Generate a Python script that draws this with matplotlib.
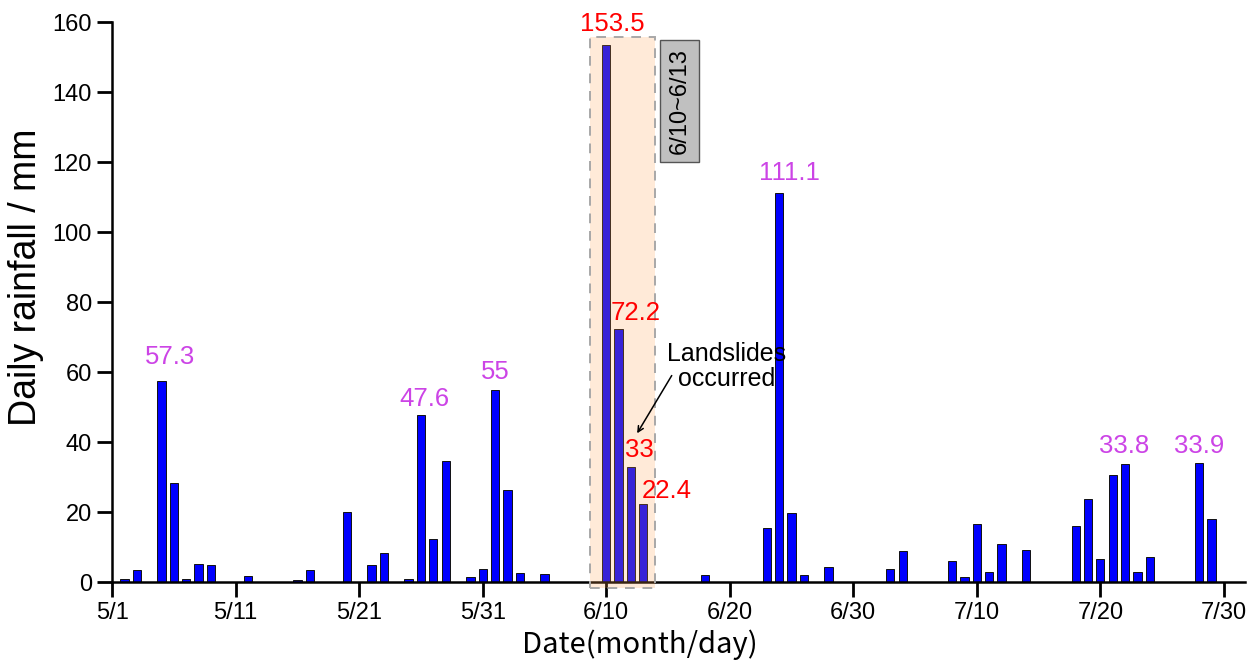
import matplotlib
matplotlib.use("Agg")
import matplotlib.pyplot as plt
from matplotlib.patches import Rectangle
import pandas as pd

# daily rainfall (mm), days without rain are left out
dates = ["5/2", "5/3", "5/5", "5/6", "5/7", "5/8", "5/9", "5/12", "5/16", "5/17",
         "5/20", "5/22", "5/23", "5/25", "5/26", "5/27", "5/28", "5/30", "5/31", "6/1",
         "6/2", "6/3", "6/5", "6/10", "6/11", "6/12", "6/13", "6/18", "6/23", "6/24",
         "6/25", "6/26", "6/28", "7/3", "7/4", "7/8", "7/9", "7/10", "7/11", "7/12",
         "7/14", "7/18", "7/19", "7/20", "7/21", "7/22", "7/23", "7/24", "7/28", "7/29"]
rain = [1.0, 3.3, 57.3, 28.2, 1.0, 5.2, 5.0, 1.6, 0.5, 3.3,
        20.0, 5.0, 8.3, 1.0, 47.6, 12.4, 34.5, 1.3, 3.7, 55.0,
        26.4, 2.6, 2.3, 153.5, 72.2, 33.0, 22.4, 2.0, 15.5, 111.1,
        19.8, 1.9, 4.4, 3.7, 8.8, 6.1, 1.3, 16.7, 2.9, 11.0,
        9.2, 16.0, 23.8, 6.5, 30.6, 33.8, 3.0, 7.1, 33.9, 18.1]

# peaks that get a value label
peak_dates = ["5/5", "5/26", "6/1", "6/24", "7/22", "7/28"]
event_dates = ["6/10", "6/11", "6/12", "6/13"]
tick_dates = ["5/1", "5/11", "5/21", "5/31", "6/10", "6/20", "6/30", "7/10", "7/20", "7/30"]

start = pd.Timestamp("2020-05-01")


def day_index(s):
    m, d = s.split("/")
    return (pd.Timestamp(2020, int(m), int(d)) - start).days


x = [day_index(d) for d in dates]
val = dict(zip(dates, rain))

plt.rcParams["font.family"] = ["Liberation Sans", "DejaVu Sans"]

fig = plt.figure(figsize=(12.6, 6.69), dpi=100)
ax = fig.add_axes([0.089, 0.130, 0.899, 0.837])

ax.bar(x, rain, width=0.67, color="#0000FF", edgecolor="#111111", linewidth=0.7, zorder=2)

# shaded event window 6/10~6/13
x0 = day_index("6/10")
box = Rectangle((x0 - 1.35, -1.8), 5.3, 157.6, facecolor=(1.0, 0.63, 0.31, 0.22),
                edgecolor="#A8A8A8", linestyle=(0, (5, 4)), linewidth=1.4,
                zorder=3, clip_on=False)
ax.add_patch(box)
ax.text(x0 + 5.95, 137.5, "6/10~6/13", rotation=90, ha="center", va="center",
        fontsize=17, zorder=4,
        bbox=dict(boxstyle="square,pad=0.35", facecolor="#C0C0C0", edgecolor="#555555", linewidth=1))

# value labels
peak_dx = [0.7, 0.3, 0.0, 0.8, -0.1, 0.0]
peak_dy = [7.1, 4.7, 5.0, 5.9, 5.0, 5.0]
for d, dx, dy in zip(peak_dates, peak_dx, peak_dy):
    v = val[d]
    ax.text(day_index(d) + dx, v + dy, f"{v:g}", color="#CC44E6", fontsize=18.5,
            ha="center", va="center", zorder=5)

event_dx = [0.5, 1.4, 0.7, 1.9]
event_dy = [6.0, 4.8, 4.6, 3.7]
for d, dx, dy in zip(event_dates, event_dx, event_dy):
    v = val[d]
    ax.text(day_index(d) + dx, v + dy, f"{v:g}", color="#FF0000", fontsize=18.5,
            ha="center", va="center", zorder=5)

ax.text(x0 + 9.75, 61.5, "Landslides\noccurred", ha="center", va="center",
        fontsize=18, linespacing=1.05, zorder=5)
ax.annotate("", xy=(x0 + 2.5, 42.5), xytext=(x0 + 5.3, 59.0), zorder=5,
            arrowprops=dict(arrowstyle="->", color="black", lw=1.1,
                            shrinkA=0, shrinkB=0))

ax.set_xlim(0, 91.7)
ax.set_ylim(0, 160)
ax.set_xticks([day_index(t) for t in tick_dates])
ax.set_xticklabels(tick_dates)
ax.set_yticks(range(0, 161, 20))

for s in ["top", "right"]:
    ax.spines[s].set_visible(False)
for s in ["left", "bottom"]:
    ax.spines[s].set_linewidth(1.8)
ax.tick_params(direction="out", length=11, width=2, labelsize=17)

ax.set_ylabel("Daily rainfall / mm", fontsize=27, labelpad=6)
ax.yaxis.label.set_y(0.545)
ax.set_xlabel("Date(month/day)", fontsize=21, family=["Noto Sans CJK SC", "DejaVu Sans"],
              labelpad=4)
ax.xaxis.label.set_x(0.466)

fig.savefig("out.png", dpi=100)
